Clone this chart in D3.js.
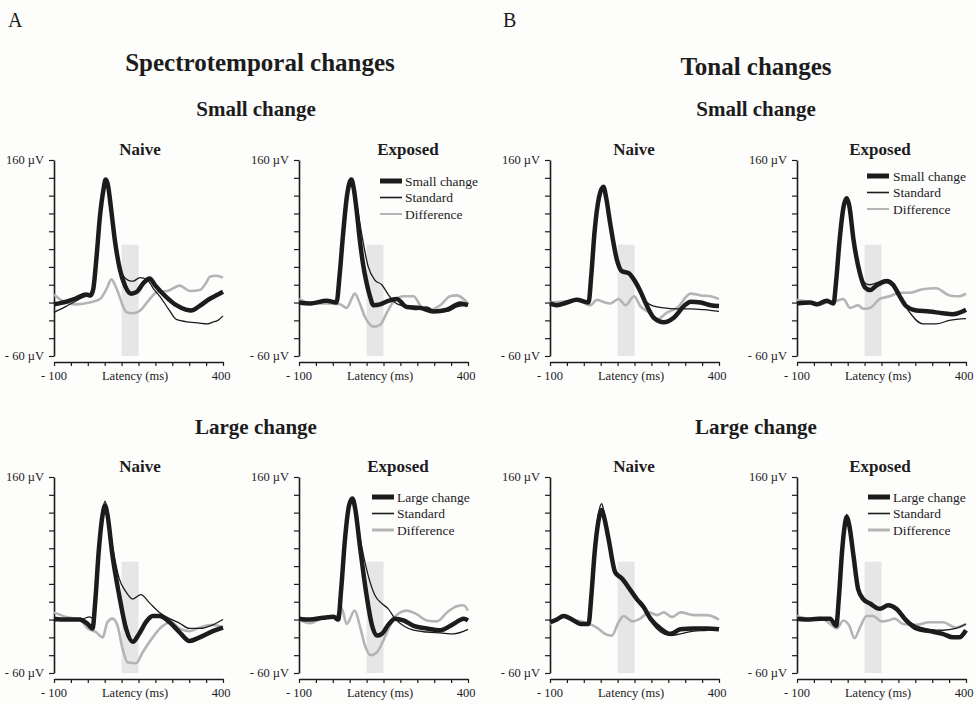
<!DOCTYPE html>
<html>
<head>
<meta charset="utf-8">
<script src="https://cdn.jsdelivr.net/npm/d3@7"></script>
<style>
  body { margin: 0; background: #fdfdfc; }
  svg { display: block; font-family: "Liberation Serif", "DejaVu Serif", serif; }
</style>
</head>
<body>
<svg id="mySVG" width="976" height="704"></svg>
<script>
// values: [latency ms, amplitude µV]
const stSmallNaiveDev = [[-100,-2],[-63,1],[-33,5],[-5,9],[8,8],[16,15],[26,52],[36,97],[46,126],[53,138],[60,131],[68,108],[80,70],[95,37],[110,19],[128,10],[145,12],[165,22],[183,27],[200,19],[230,7],[262,-3],[290,-8],[306,-9],[330,-4],[360,4],[385,9],[400,12]];
const stSmallNaiveStd = [[-100,-11],[-63,-4],[-33,2],[-5,7],[8,7],[16,14],[26,48],[36,92],[46,124],[53,134],[60,127],[70,97],[80,68],[95,38],[105,30],[120,25],[134,24],[154,28],[175,26],[195,15],[213,7],[240,-8],[262,-19],[300,-22],[330,-23],[351,-24],[370,-22],[385,-20],[400,-15]];
const stSmallNaiveDiff = [[-100,9],[-80,3],[-63,0],[-33,-2],[6,0],[36,4],[55,15],[70,26],[80,20],[90,11],[105,-5],[115,-11],[135,-12],[155,-9],[175,0],[190,7],[205,12],[235,13],[272,19],[301,13],[331,14],[350,22],[361,29],[380,30],[400,28]];

const stSmallExpDev = [[-100,0],[-67,-1],[-18,2],[11,0],[20,30],[30,75],[42,120],[55,138],[62,128],[70,105],[80,70],[90,42],[100,22],[110,7],[120,-3],[140,-2],[164,2],[189,4],[219,-5],[258,-6],[298,-10],[338,-8],[377,-1],[400,-3]];
const stSmallExpStd = [[-100,-1],[-67,-1],[-18,2],[11,0],[20,28],[30,72],[42,118],[55,136],[62,128],[72,108],[85,78],[105,40],[125,25],[145,20],[164,9],[184,0],[209,-4],[248,-8],[278,-5],[308,-11],[338,-10],[367,-5],[400,-3]];
const stSmallExpDiff = [[-100,4],[-67,-1],[-27,-1],[21,-2],[41,-6],[53,2],[65,10],[80,-1],[95,-16],[120,-27],[140,-25],[159,-12],[184,3],[209,7],[239,7],[263,-5],[288,-8],[318,-3],[347,7],[367,8],[400,-1]];

const tnSmallNaiveDev = [[-100,-1],[-80,-3],[-50,0],[-21,3],[14,0],[22,30],[32,80],[45,118],[58,130],[66,118],[78,89],[98,48],[113,35],[133,33],[148,26],[167,13],[187,-4],[207,-17],[237,-22],[266,-17],[296,-4],[316,1],[346,0],[375,-3],[400,-4]];
const tnSmallNaiveStd = [[-100,-1],[-80,-3],[-50,0],[-21,3],[14,0],[22,30],[32,80],[45,118],[58,130],[66,118],[78,88],[98,47],[113,36],[133,33],[148,24],[167,11],[187,0],[207,-4],[237,-6],[276,-7],[316,-7],[356,-8],[400,-10]];
const tnSmallNaiveDiff = [[-100,0],[-60,1],[-21,3],[19,-3],[39,3],[63,0],[78,-1],[103,4],[123,-3],[149,7],[167,-4],[192,-11],[217,-19],[247,-11],[276,-6],[316,10],[346,8],[375,7],[400,4]];

const tnSmallExpDev = [[-100,-1],[-61,0],[-41,-2],[-12,2],[8,-1],[16,25],[26,70],[38,108],[47,117],[55,108],[67,71],[86,33],[101,17],[116,14],[135,19],[165,24],[184,20],[204,7],[223,-4],[253,-9],[292,-10],[331,-12],[361,-13],[390,-10],[400,-8]];
const tnSmallExpStd = [[-100,-1],[-61,0],[-41,-2],[-12,2],[8,-1],[16,24],[26,68],[38,107],[47,116],[55,107],[67,72],[86,35],[101,22],[116,20],[135,22],[165,26],[184,22],[204,7],[233,-11],[272,-24],[312,-24],[351,-20],[400,-18]];
const tnSmallExpDiff = [[-100,3],[-71,1],[-41,-3],[-12,0],[18,2],[37,4],[57,-6],[81,-3],[96,-7],[116,-6],[145,4],[174,7],[204,11],[233,11],[272,15],[312,16],[351,8],[380,7],[400,10]];

const stLargeNaiveDev = [[-100,1],[-65,0],[-25,0],[0,-5],[14,-10],[22,20],[32,75],[44,118],[51,128],[58,118],[73,72],[93,27],[113,-10],[133,-25],[152,-16],[172,-3],[192,4],[212,4],[242,-3],[271,-14],[301,-24],[331,-20],[370,-13],[400,-9]];
const stLargeNaiveStd = [[-100,-2],[-65,1],[-15,1],[5,3],[16,1],[24,35],[34,90],[45,125],[51,133],[58,122],[73,83],[93,46],[113,31],[133,23],[157,28],[182,19],[212,8],[242,1],[271,-4],[301,-10],[331,-10],[370,-6],[400,0]];
const stLargeNaiveDiff = [[-100,8],[-65,3],[-25,0],[0,-10],[24,-14],[44,-20],[58,-3],[73,1],[88,-7],[103,-33],[118,-48],[143,-49],[162,-37],[192,-20],[222,-7],[247,-3],[271,-10],[301,-13],[331,-9],[370,-6],[400,-9]];

const stLargeExpDev = [[-100,1],[-68,0],[-28,2],[2,3],[16,0],[25,35],[36,90],[48,128],[58,136],[66,125],[80,83],[100,27],[115,-5],[130,-18],[145,-16],[164,-6],[184,1],[209,-1],[239,-7],[278,-10],[318,-12],[357,-5],[387,1],[400,-1]];
const stLargeExpStd = [[-100,1],[-68,0],[-28,2],[2,3],[16,0],[25,33],[36,88],[48,126],[58,134],[66,124],[85,83],[105,49],[125,27],[145,18],[164,12],[184,1],[209,-7],[239,-12],[278,-14],[318,-15],[357,-16],[400,-11]];
const stLargeExpDiff = [[-100,0],[-68,-4],[-28,2],[11,4],[26,13],[41,-5],[65,10],[80,-7],[95,-29],[112,-40],[130,-37],[149,-24],[169,-7],[189,5],[219,10],[248,6],[278,-1],[308,-2],[338,8],[367,15],[387,16],[400,10]];

const tnLargeNaiveDev = [[-100,-3],[-80,0],[-60,4],[-30,-1],[-10,-5],[14,-5],[22,25],[32,75],[43,110],[53,123],[60,115],[73,91],[93,53],[113,46],[138,33],[157,23],[177,14],[197,1],[227,-10],[256,-16],[286,-11],[326,-10],[365,-10],[400,-11]];
const tnLargeNaiveStd = [[-100,-3],[-80,0],[-60,4],[-30,-1],[-10,-5],[14,-5],[22,27],[32,80],[43,118],[53,130],[60,120],[73,92],[93,53],[113,46],[138,33],[157,23],[177,13],[197,-1],[227,-14],[256,-18],[286,-16],[326,-13],[365,-12],[400,-10]];
const tnLargeNaiveDiff = [[-100,-5],[-80,-1],[-60,4],[-30,0],[9,-4],[39,-9],[63,-16],[83,-18],[103,-3],[118,4],[143,-2],[167,1],[192,8],[217,5],[237,8],[261,3],[286,8],[326,5],[365,5],[400,0]];

const tnLargeExpDev = [[-100,1],[-61,0],[-31,1],[-2,1],[16,-7],[24,25],[33,75],[41,105],[47,115],[55,105],[67,72],[81,34],[96,23],[116,18],[145,12],[170,16],[194,12],[223,-1],[253,-10],[292,-13],[331,-16],[361,-20],[380,-20],[400,-12]];
const tnLargeExpStd = [[-100,1],[-61,0],[-31,1],[-2,1],[16,-5],[24,27],[33,78],[41,108],[47,118],[55,108],[67,74],[81,36],[96,24],[116,18],[145,12],[170,16],[194,12],[223,0],[253,-7],[292,-11],[331,-12],[370,-10],[400,-5]];
const tnLargeExpDiff = [[-100,4],[-61,1],[-31,2],[-2,-5],[18,-10],[37,-1],[55,-7],[70,-21],[86,-9],[106,4],[125,4],[150,-2],[170,-1],[189,1],[214,-5],[253,-6],[292,-3],[331,-3],[370,-9],[400,-5]];

// axes and analysis window
const xDomain = [-100, 400];
const yDomain = [-60, 160];
const xTickValues = [-100, -50, 0, 50, 100, 150, 200, 250, 300, 350, 400];
const yTickValues = [-60, -40, -20, 0, 20, 40, 60, 80, 100, 120, 140, 160];
const xTickLabels = ["- 100", "Latency (ms)", "400"];
const yTickLabels = ["160 \u00b5V", "- 60 \u00b5V"];
const windowMs = [100, 150];
const windowTop = 65;

const svg = d3.select("#mySVG");
const ink = "#1c1c1c";
const grey = "#b4b4b4";
const pw = 169, ph = 196;

// headings
svg.append("text").attr("x", 8).attr("y", 27).attr("font-size", 20).attr("fill", ink).text("A");
svg.append("text").attr("x", 503).attr("y", 27).attr("font-size", 20).attr("fill", ink).text("B");

const headings = [
  { t: "Spectrotemporal changes", x: 260, y: 71, s: 25 },
  { t: "Tonal changes", x: 756, y: 75, s: 25 },
  { t: "Small change", x: 256, y: 116, s: 21 },
  { t: "Small change", x: 756, y: 116, s: 21 },
  { t: "Large change", x: 256, y: 434, s: 21 },
  { t: "Large change", x: 756, y: 434, s: 21 }
];
headings.forEach(h => {
  svg.append("text")
    .attr("x", h.x).attr("y", h.y)
    .attr("text-anchor", "middle")
    .attr("font-weight", "bold")
    .attr("font-size", h.s)
    .attr("fill", ink)
    .text(h.t);
});

const panels = [
  { x0: 54,  y0: 160, title: "Naive",   tx: 140, dev: stSmallNaiveDev, std: stSmallNaiveStd, diff: stSmallNaiveDiff },
  { x0: 299, y0: 160, title: "Exposed", tx: 408, dev: stSmallExpDev,   std: stSmallExpStd,   diff: stSmallExpDiff,
    legend: { name: "Small change", sx: 81, tx: 106, ly: 21, gw: 2 } },
  { x0: 550, y0: 160, title: "Naive",   tx: 634, dev: tnSmallNaiveDev, std: tnSmallNaiveStd, diff: tnSmallNaiveDiff },
  { x0: 797, y0: 160, title: "Exposed", tx: 880, dev: tnSmallExpDev,   std: tnSmallExpStd,   diff: tnSmallExpDiff,
    legend: { name: "Small change", sx: 70, tx: 96, ly: 16, gw: 2 } },
  { x0: 54,  y0: 477, title: "Naive",   tx: 140, dev: stLargeNaiveDev, std: stLargeNaiveStd, diff: stLargeNaiveDiff },
  { x0: 299, y0: 477, title: "Exposed", tx: 398, dev: stLargeExpDev,   std: stLargeExpStd,   diff: stLargeExpDiff,
    legend: { name: "Large change", sx: 73, tx: 98, ly: 20, gw: 3 } },
  { x0: 550, y0: 477, title: "Naive",   tx: 634, dev: tnLargeNaiveDev, std: tnLargeNaiveStd, diff: tnLargeNaiveDiff },
  { x0: 797, y0: 477, title: "Exposed", tx: 880, dev: tnLargeExpDev,   std: tnLargeExpStd,   diff: tnLargeExpDiff,
    legend: { name: "Large change", sx: 71, tx: 96, ly: 20, gw: 3 } }
];

panels.forEach(p => {
  const g = svg.append("g").attr("transform", `translate(${p.x0},${p.y0})`);
  const x = d3.scaleLinear().domain(xDomain).range([0, pw]);
  const y = d3.scaleLinear().domain(yDomain).range([ph, 0]);

  // panel title
  g.append("text")
    .attr("x", p.tx - p.x0).attr("y", -5)
    .attr("text-anchor", "middle")
    .attr("font-weight", "bold")
    .attr("font-size", 17)
    .attr("fill", ink)
    .text(p.title);

  // analysis window
  g.append("rect")
    .attr("x", x(windowMs[0]))
    .attr("y", y(windowTop))
    .attr("width", x(windowMs[1]) - x(windowMs[0]))
    .attr("height", y(yDomain[0]) - y(windowTop))
    .attr("fill", "#e6e6e6");

  // axes
  const yAxis = g.append("g")
    .call(d3.axisLeft(y).tickValues(yTickValues).tickFormat("").tickSize(5).tickSizeOuter(0));
  const xAxis = g.append("g")
    .attr("transform", `translate(0,${ph + 6})`)
    .call(d3.axisBottom(x).tickValues(xTickValues).tickFormat("").tickSize(4).tickSizeOuter(0));
  [yAxis, xAxis].forEach(a => {
    a.select(".domain").attr("stroke", ink).attr("stroke-width", 1.6);
    a.selectAll(".tick line").attr("stroke", ink).attr("stroke-width", 1.2);
  });

  // tick labels
  g.append("text").attr("x", -10).attr("y", y(160) + 4)
    .attr("text-anchor", "end").attr("font-size", 12.5).attr("fill", ink).text(yTickLabels[0]);
  g.append("text").attr("x", -10).attr("y", y(-60) + 4)
    .attr("text-anchor", "end").attr("font-size", 12.5).attr("fill", ink).text(yTickLabels[1]);
  g.append("text").attr("x", x(-100)).attr("y", ph + 24)
    .attr("text-anchor", "middle").attr("font-size", 12.5).attr("fill", ink).text(xTickLabels[0]);
  g.append("text").attr("x", x(140)).attr("y", ph + 24)
    .attr("text-anchor", "middle").attr("font-size", 12.5).attr("fill", ink).text(xTickLabels[1]);
  g.append("text").attr("x", x(400) - 2).attr("y", ph + 24)
    .attr("text-anchor", "middle").attr("font-size", 12.5).attr("fill", ink).text(xTickLabels[2]);

  const line = d3.line()
    .x(d => x(d[0]))
    .y(d => y(d[1]))
    .curve(d3.curveMonotoneX);

  g.append("path").attr("d", line(p.diff))
    .attr("fill", "none").attr("stroke", grey).attr("stroke-width", 2.6).attr("stroke-linejoin", "round");
  g.append("path").attr("d", line(p.dev))
    .attr("fill", "none").attr("stroke", ink).attr("stroke-width", 4.5).attr("stroke-linejoin", "round");
  g.append("path").attr("d", line(p.std))
    .attr("fill", "none").attr("stroke", ink).attr("stroke-width", 1.3).attr("stroke-linejoin", "round");

  // legend
  if (p.legend) {
    const L = p.legend;
    const rows = [
      { name: L.name, color: ink, w: 5 },
      { name: "Standard", color: ink, w: 1.6 },
      { name: "Difference", color: grey, w: L.gw }
    ];
    rows.forEach((r, i) => {
      const yy = L.ly + i * 16.5;
      g.append("line")
        .attr("x1", L.sx).attr("x2", L.sx + 22)
        .attr("y1", yy).attr("y2", yy)
        .attr("stroke", r.color).attr("stroke-width", r.w);
      g.append("text")
        .attr("x", L.tx).attr("y", yy + 4.5)
        .attr("font-size", 13.5).attr("fill", ink)
        .text(r.name);
    });
  }
});
</script>
</body>
</html>
